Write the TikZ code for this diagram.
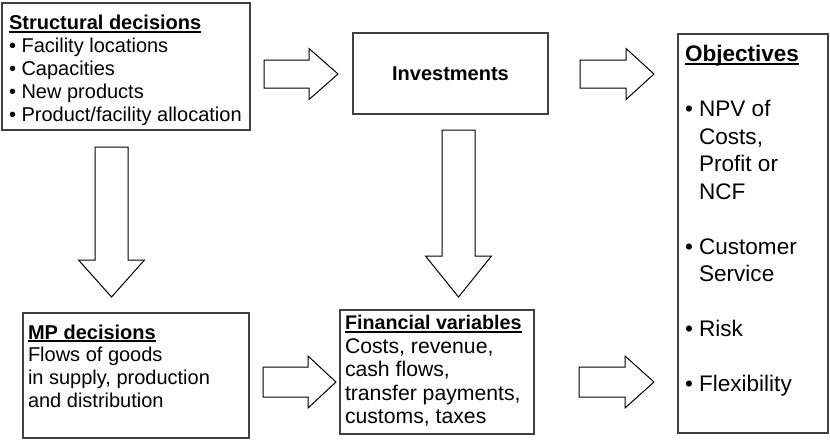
\documentclass[tikz,border=0pt]{standalone}
\usepackage{fontspec}
\setmainfont{Liberation Sans}
\newsavebox\ulsave
\newcommand\ultitle[1]{\sbox\ulsave{\bfseries #1}\rlap{\rule[-2.4pt]{\wd\ulsave}{1.3pt}}\usebox\ulsave}
\definecolor{boxgray}{RGB}{64,64,64}
\tikzset{
  box/.style={draw=boxgray, line width=1.1pt, inner sep=0pt, outer sep=0pt, anchor=north west},
  txt/.style={inner sep=0pt, outer sep=0pt, anchor=north west, align=left, text=black,
              font=\fontsize{15pt}{17.25pt}\selectfont},
  objtxt/.style={txt, font=\fontsize{16.9pt}{20.6pt}\selectfont},
  barrow/.style={draw=black, line width=0.75pt, fill=white, line join=miter}
}
\newcommand\rarrow[6]{% x1, x2 (tip), xh (head start), ymid, body half, head half
  \draw[barrow] (#1,#4-#5) -- (#3,#4-#5) -- (#3,#4-#6) -- (#2,#4) -- (#3,#4+#6) -- (#3,#4+#5) -- (#1,#4+#5) -- cycle;}
\newcommand\darrow[6]{% y1, y2 (tip), yh (head start), xmid, body half, head half
  \draw[barrow] (#4-#5,#1) -- (#4-#5,#3) -- (#4-#6,#3) -- (#4,#2) -- (#4+#6,#3) -- (#4+#5,#3) -- (#4+#5,#1) -- cycle;}
\begin{document}
\begin{tikzpicture}[x=0.75pt, y=-0.75pt]
\useasboundingbox (0,0) rectangle (830,440);
% boxes
\node[box, minimum width=248*0.75pt, minimum height=127*0.75pt] (sd) at (2,3) {};
\node[box, minimum width=195*0.75pt, minimum height=81*0.75pt] (inv) at (353,33) {};
\node[box, minimum width=150*0.75pt, minimum height=399*0.75pt] (obj) at (678,34) {};
\node[box, minimum width=226*0.75pt, minimum height=125*0.75pt] (mp) at (23,313) {};
\node[box, minimum width=194*0.75pt, minimum height=124*0.75pt] (fin) at (340,310) {};
% texts
\node[txt] (sdtxt) at (9,15.4) {\ultitle{Structural decisions}\\
  • Facility locations\\ • Capacities\\ • New products\\ • Product/facility allocation};
\node[txt, anchor=center, font=\fontsize{15pt}{17.25pt}\selectfont\bfseries] (invtxt) at (inv.center) {Investments};
\node[objtxt] (objtxt) at (685,45.5) {\ultitle{Objectives}\\[20.6pt]
  •~NPV of\\ \hphantom{•~}Costs,\\ \hphantom{•~}Profit or\\ \hphantom{•~}NCF\\[20.6pt]
  •~Customer\\ \hphantom{•~}Service\\[20.6pt]
  •~Risk\\[20.6pt]
  •~Flexibility};
\node[txt, font=\fontsize{15pt}{17.1pt}\selectfont] (mptxt) at (28,324.5) {\ultitle{MP decisions}\\ Flows of goods\\ in supply, production\\ and distribution};
\node[txt, font=\fontsize{15.9pt}{17.6pt}\selectfont] (fintxt) at (345,315.5) {{\fontsize{14.8pt}{17.6pt}\selectfont\ultitle{Financial variables}}\\
  Costs, revenue,\\ cash flows,\\ transfer payments,\\ customs, taxes};
% block arrows
\rarrow{264}{338}{309}{74}{14}{25.5}
\rarrow{580}{654}{626}{74}{14}{25.5}
\rarrow{263}{336}{308}{382}{15}{26}
\rarrow{579}{654}{625}{382}{15}{26}
\darrow{147}{297}{260}{111.5}{16.5}{33}
\darrow{130}{297}{256}{458.5}{16.5}{33}
\end{tikzpicture}
\end{document}
